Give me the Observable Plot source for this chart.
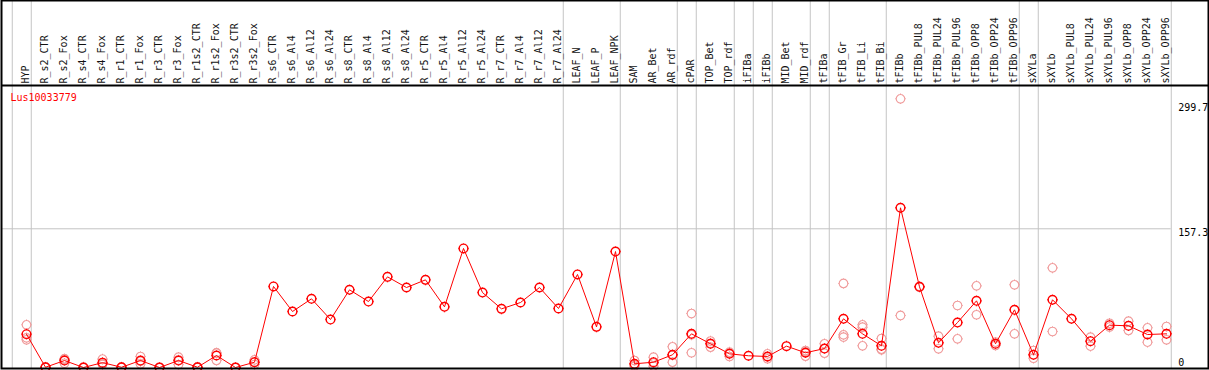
<!DOCTYPE html>
<html>
<head>
<meta charset="utf-8">
<script src="https://cdn.jsdelivr.net/npm/d3@7"></script>
<script src="https://cdn.jsdelivr.net/npm/@observablehq/plot@0.6"></script>
<style>
  html, body { margin: 0; padding: 0; background: #ffffff; }
  #chart svg { display: block; }
</style>
</head>
<body>
<div id="chart"></div>
<script>
const geneName = "Lus10033779";

const categories = [
  "HYP","R_s2_CTR","R_s2_Fox","R_s4_CTR","R_s4_Fox","R_r1_CTR","R_r1_Fox","R_r3_CTR","R_r3_Fox",
  "R_r1s2_CTR","R_r1s2_Fox","R_r3s2_CTR","R_r3s2_Fox","R_s6_CTR","R_s6_Al4","R_s6_Al12","R_s6_Al24",
  "R_s8_CTR","R_s8_Al4","R_s8_Al12","R_s8_Al24","R_r5_CTR","R_r5_Al4","R_r5_Al12","R_r5_Al24",
  "R_r7_CTR","R_r7_Al4","R_r7_Al12","R_r7_Al24","LEAF_N","LEAF_P","LEAF_NPK","SAM","AR_Bet","AR_rdf",
  "cPAR","TOP_Bet","TOP_rdf","iFIBa","iFIBb","MID_Bet","MID_rdf","tFIBa","tFIB_Gr","tFIB_Li","tFIB_Bi",
  "tFIBb","tFIBb_PUL8","tFIBb_PUL24","tFIBb_PUL96","tFIBb_OPP8","tFIBb_OPP24","tFIBb_OPP96",
  "sXYLa","sXYLb","sXYLb_PUL8","sXYLb_PUL24","sXYLb_PUL96","sXYLb_OPP8","sXYLb_OPP24","sXYLb_OPP96"
];

// number of samples in each sample group (separated by grey lines)
const groupSizes = [1, 28, 3, 3, 1, 2, 1, 1, 2, 1, 3, 7, 1, 7];

// mean expression (main red line)
const meanValues = [
  37.8, 0.3, 7.9, 0, 5.5, 0.3, 7.9, 0, 7.9, 0.3, 13.6, 0, 6,
  91.9, 63.5, 77.9, 54.4, 88.1, 74.8, 102.8, 90.7, 99.4, 68.8, 135, 85, 66.5, 73.7, 90.7, 66.9,
  105.5, 46.1, 131.5,
  4.2, 6, 14.4, 38.2, 26.9, 15.5, 13.3, 12.5, 24.2, 16.7, 21.5, 55.2, 38.2, 24.6,
  181.1, 91.5, 28, 51, 75.6, 26.9, 65.4, 14.4, 76.8, 55.2, 29.8, 48, 47.3, 37.4, 38.2
];

// individual replicates (pale circles); null = no replicate shown
const rep1 = [
  48.4, 0.6, 10, 0.4, 9.5, 0.6, 12.5, 0.3, 11.7, 0.6, 16.5, 0.3, 8.7,
  null, null, null, null, null, null, null, null, null, null, null, null, null, null, null, null,
  null, null, null,
  7.9, 11.7, 23.5, 61.2, 30, 17.4, null, 15.5, null, 19.3, 26.9, 95.3, 48.4, 32.9,
  304.7, 92, 35.5, 70.3, 92.6, 28.7, 93.8, 19.3, 113, null, 34.4, 50.2, 52.5, 45, 46.5
];
const rep2 = [
  33.7, 0.2, 9, 0, 4, 0.2, 7, 0, 8.5, 0.2, 16.5, 0, 6,
  null, null, null, null, null, null, null, null, null, null, null, null, null, null, null, null,
  null, null, null,
  1.5, 1.5, 6, 16.7, 23, 12.5, null, 9.9, null, 12.8, 16.2, 37, 45.7, 20.8,
  59, 91, 21.2, 32.5, 59.8, 25, 38.2, 10.5, 40.8, null, 24.2, 45.8, 42, 28.7, 31.4
];
const rep3 = [
  31.4, 0, 4.8, 0, 3.5, 0, 4, 0, 3.4, 0, 8, 0, 3.4,
  null, null, null, null, null, null, null, null, null, null, null, null, null, null, null, null,
  null, null, null,
  3, 5, 14, 37, 27.5, 16.5, null, 12, null, 18, 21.4, 34.4, 24.6, 20,
  null, null, null, null, null, null, null, null, null, null, null, null, null, null, null
];

const yTickValues = [0, 157.3, 299.7];
const yGridValues = [157.3];

// ---- derived tables ----
const means = categories.map((c, i) => ({i, name: c, value: meanValues[i]}));
const reps = [];
[rep1, rep2, rep3].forEach(arr => arr.forEach((v, i) => { if (v != null) reps.push({i, value: v}); }));
const boundaries = [-0.75];
groupSizes.forEach(n => boundaries.push(boundaries[boundaries.length - 1] + n));
const lastBoundary = boundaries[boundaries.length - 1];

const xDomain = [-25 / 19, 1182 / 19];
const yDomain = [-1 / 0.8818, 282 / 0.8818];

// circle with four small ticks
const sunSymbol = {
  draw(ctx, size) {
    const r = Math.sqrt(size / Math.PI);
    ctx.moveTo(r, 0);
    ctx.arc(0, 0, r, 0, 2 * Math.PI);
    const t = 1;
    ctx.moveTo(0, -r); ctx.lineTo(0, -r - t);
    ctx.moveTo(0, r); ctx.lineTo(0, r + t);
    ctx.moveTo(-r, 0); ctx.lineTo(-r - t, 0);
    ctx.moveTo(r, 0); ctx.lineTo(r + t, 0);
  }
};

const mono = "'DejaVu Sans Mono', 'Liberation Mono', monospace";

const chart = Plot.plot({
  width: 1209,
  height: 370,
  marginTop: 85,
  marginBottom: 2,
  marginLeft: 1,
  marginRight: 1,
  style: {background: "#ffffff", fontFamily: mono, fontSize: "10px"},
  x: {type: "linear", domain: xDomain, axis: null},
  y: {type: "linear", domain: yDomain, axis: null},
  marks: [
    Plot.ruleX(boundaries, {x: d => d, stroke: "#c4c4c4", strokeWidth: 1, insetTop: -85}),
    Plot.ruleY(yGridValues, {y: d => d, x1: xDomain[0], x2: lastBoundary, stroke: "#c4c4c4", strokeWidth: 1}),
    Plot.text(categories, {
      x: (d, i) => i, frameAnchor: "top", dy: -2, dx: -0.5,
      text: d => d, rotate: -90, textAnchor: "start", lineAnchor: "middle",
      fill: "#111", fontFamily: mono, fontSize: 10
    }),
    Plot.text([geneName], {
      frameAnchor: "top-left", dx: 9, dy: 8, text: d => d,
      textAnchor: "start", lineAnchor: "top", fill: "#ff0000", fontFamily: mono, fontSize: 10
    }),
    Plot.text(yTickValues.filter(v => v > 0), {
      y: d => d, x: lastBoundary, dx: 7, dy: 4.4, text: d => String(d),
      textAnchor: "start", lineAnchor: "middle", fill: "black", fontFamily: mono, fontSize: 10
    }),
    Plot.text(yTickValues.filter(v => v === 0), {
      y: d => d, x: lastBoundary, dx: 7, dy: -4.7, text: d => String(d),
      textAnchor: "start", lineAnchor: "middle", fill: "black", fontFamily: mono, fontSize: 10
    }),
    Plot.dot(reps, {x: "i", y: "value", r: 4.3, symbol: sunSymbol, fill: "none", stroke: "#f09a9a", strokeWidth: 1.1}),
    Plot.line(means, {x: "i", y: "value", stroke: "#ff0000", strokeWidth: 1}),
    Plot.dot(means, {x: "i", y: "value", r: 4.3, symbol: sunSymbol, fill: "none", stroke: "#ff0000", strokeWidth: 1.4}),
    Plot.ruleY([yDomain[1]], {y: d => d, stroke: "black", strokeWidth: 2}),
    Plot.frame({stroke: "black", strokeWidth: 2, insetTop: -85})
  ]
});
document.getElementById("chart").appendChild(chart);
</script>
</body>
</html>
